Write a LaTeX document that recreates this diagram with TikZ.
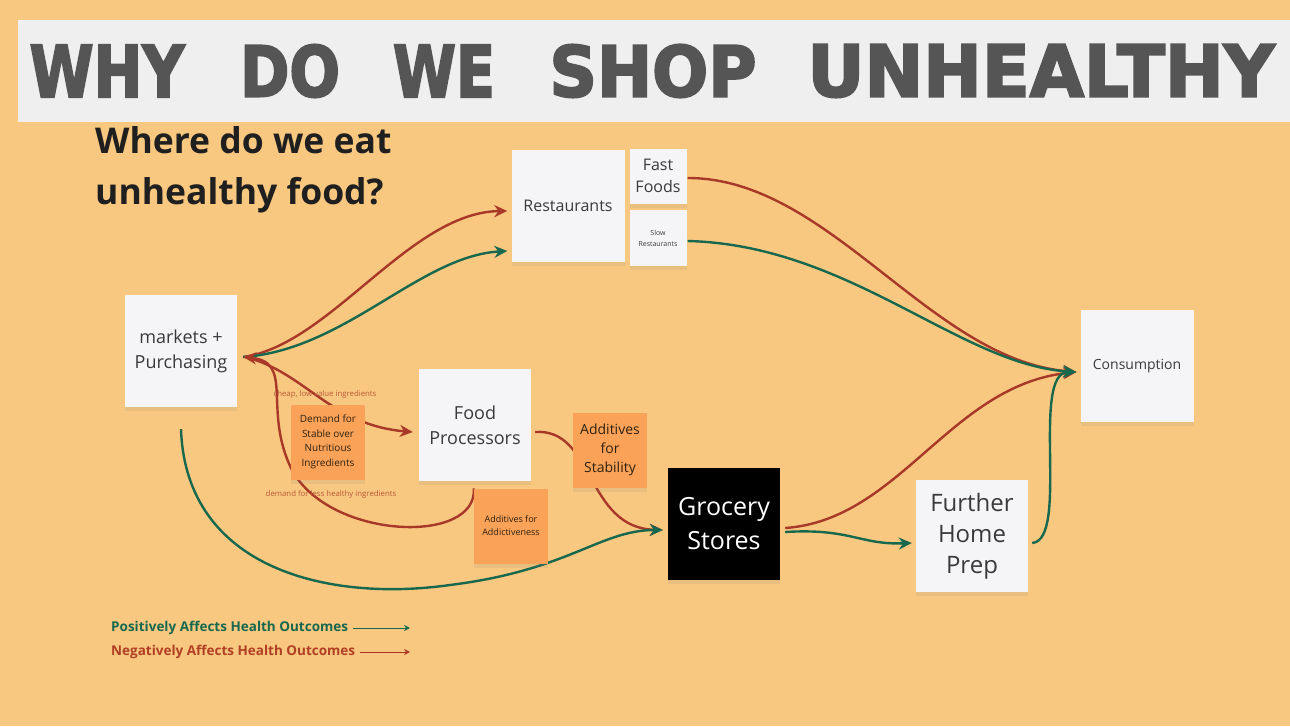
\documentclass[tikz,border=0pt]{standalone}
\usepackage{fontspec}
\setmainfont{Open Sans}
\newfontfamily\titlefont{DejaVu Sans}[BoldFeatures={FakeBold=3}]
\usetikzlibrary{arrows.meta, positioning, shadows, calc}

\definecolor{bgpeach}{RGB}{248,200,128}
\definecolor{bandgray}{RGB}{239,239,239}
\definecolor{titlegray}{RGB}{85,85,85}
\definecolor{negred}{RGB}{168,56,40}
\definecolor{posgreen}{RGB}{24,104,78}
\definecolor{notewhite}{RGB}{245,245,248}
\definecolor{noteorange}{RGB}{250,163,88}
\definecolor{notetext}{RGB}{58,58,58}
\definecolor{labelred}{RGB}{185,88,58}

\pgfdeclarelayer{bg}
\pgfsetlayers{bg,main}

\newcommand{\fs}[2]{\fontsize{#1}{#2}\selectfont}

\begin{document}
\begin{tikzpicture}[
  x=1pt, y=-1pt,
  note/.style={fill=notewhite, minimum width=112pt, minimum height=112pt, inner sep=2pt,
               align=center, text=notetext,
               drop shadow={shadow xshift=0pt, shadow yshift=-4pt, opacity=0.12}},
  onote/.style={note, fill=noteorange, text=black!75!brown, minimum width=74pt, minimum height=75pt},
  titleword/.style={text=titlegray, inner sep=0pt, font=\titlefont\bfseries},
  negarr/.style={draw=negred, line width=2.4pt, -{Stealth[length=13pt,width=12pt]}},
  posarr/.style={draw=posgreen, line width=2.4pt, -{Stealth[length=13pt,width=12pt]}},
  tag/.style={text=labelred, font=\fs{7.8}{9}, inner sep=0pt},
]
\useasboundingbox (0,0) rectangle (1290,726);
\begin{pgfonlayer}{bg}
  \fill[bgpeach] (0,0) rectangle (1290,726);
\end{pgfonlayer}

% --- title band ---
\fill[bandgray] (18,20) rectangle (1290,122);
\node[titleword] (tw1) at (107,71)  {\resizebox{155pt}{52pt}{WHY}};
\node[titleword] (tw2) at (290,71)  {\resizebox{100pt}{52pt}{DO}};
\node[titleword] (tw3) at (444,71)  {\resizebox{102pt}{52pt}{WE}};
\node[titleword] (tw4) at (653,71)  {\resizebox{207pt}{52pt}{SHOP}};
\node[titleword] (tw5) at (1041,71) {\resizebox{467pt}{52pt}{UNHEALTHY}};

\node[anchor=north west, align=left, inner sep=0pt, font=\fs{35.5}{51}\bfseries, text=black!88]
  (sub) at (95,126) {Where do we eat\\unhealthy food?};

% --- sticky notes ---
\node[note, font=\fs{18}{25}]  (mkt)  at (181,351) {markets +\\Purchasing};
\node[note, font=\fs{16}{20}, minimum width=113pt] (rest) at (568,206) {Restaurants};
\node[note, font=\fs{16}{22}, minimum width=57pt, minimum height=55pt] (fast) at (658,176) {Fast\\Foods};
\node[note, font=\fs{7}{11}, minimum width=57pt, minimum height=56pt] (slow) at (658,238) {Slow\\Restaurants};
\node[note, font=\fs{18}{25}]  (proc) at (475,425) {Food\\Processors};
\node[onote, font=\fs{10}{14.5}] (dmd) at (328,442) {Demand for\\Stable over\\Nutritious\\Ingredients};
\node[onote, font=\fs{14}{19}] (stab) at (610,450) {Additives\\for\\Stability};
\node[onote, font=\fs{9}{13}] (addi) at (511,526) {Additives for\\Addictiveness};
\node[note, fill=black, text=white, font=\fs{25}{34}] (groc) at (724,524) {Grocery\\Stores};
\node[note, font=\fs{24}{31}] (prep) at (972,536) {Further\\Home\\Prep};
\node[note, font=\fs{14}{18}, minimum width=113pt] (cons) at (1137,366) {Consumption};

% --- connectors (behind the notes) ---
\begin{pgfonlayer}{bg}
  \draw[negarr] ($(mkt.east)+(6,6)$) .. controls (330,345) and (410,212) .. ($(rest.west)+(-4,5)$);
  \draw[posarr] ($(mkt.east)+(6,6)$) .. controls (345,350) and (420,256) .. ($(rest.west)+(-4,45)$);
  \draw[negarr] (addi.north west) .. controls (478,545) and (330,540) .. (292,470)
                .. controls (262,410) and (295,362) .. ($(mkt.east)+(6,6)$);
  \draw[negarr] ($(mkt.east)+(8,6)$) .. controls (305,372) and (330,425) .. ($(proc.west)+(-6,7)$);
  \draw[negarr] ($(proc.east)+(4,7)$) .. controls (595,428) and (585,528) .. ($(groc.west)+(-5,6)$);
  \draw[posarr] ($(mkt.south)+(0,22)$) .. controls (186,570) and (330,602) .. (450,585)
                .. controls (570,570) and (600,530) .. ($(groc.west)+(-5,6)$);
  \draw[negarr] ($(fast.east)+(1,2)$) .. controls (830,178) and (930,360) .. ($(cons.west)+(-4,6)$);
  \draw[negarr] ($(groc.east)+(5,4)$) .. controls (900,520) and (950,385) .. ($(cons.west)+(-4,6)$);
  \draw[posarr] ($(slow.east)+(1,3)$) .. controls (850,245) and (960,365) .. ($(cons.west)+(-4,6)$);
  \draw[posarr] ($(groc.east)+(5,8)$) .. controls (850,528) and (860,545) .. ($(prep.west)+(-4,7)$);
  \draw[posarr] ($(prep.east)+(4,7)$) .. controls (1070,540) and (1030,372) .. ($(cons.west)+(-4,6)$);
\end{pgfonlayer}

% --- arrow tags ---
\node[tag] (cheap) at (325,394) {cheap, low value ingredients};
\node[tag] (less)  at (331,494) {demand for less healthy ingredients};

% --- legend ---
\node[anchor=west, inner sep=0pt, text=posgreen, font=\fs{13.5}{16}\bfseries] (pos) at (111,628)
  {Positively Affects Health Outcomes};
\node[anchor=west, inner sep=0pt, text=negred!90!orange, font=\fs{13.5}{16}\bfseries] (neg) at (111,652)
  {Negatively Affects Health Outcomes};
\coordinate (posend) at (410,628);
\coordinate (negend) at (410,652);
\draw[posgreen, line width=1pt, -{Stealth[length=6pt,width=6pt]}] ($(pos.east)+(5,0)$) -- (posend);
\draw[negred, line width=1pt, -{Stealth[length=6pt,width=6pt]}] ($(neg.east)+(5,0)$) -- (negend);
\end{tikzpicture}
\end{document}
